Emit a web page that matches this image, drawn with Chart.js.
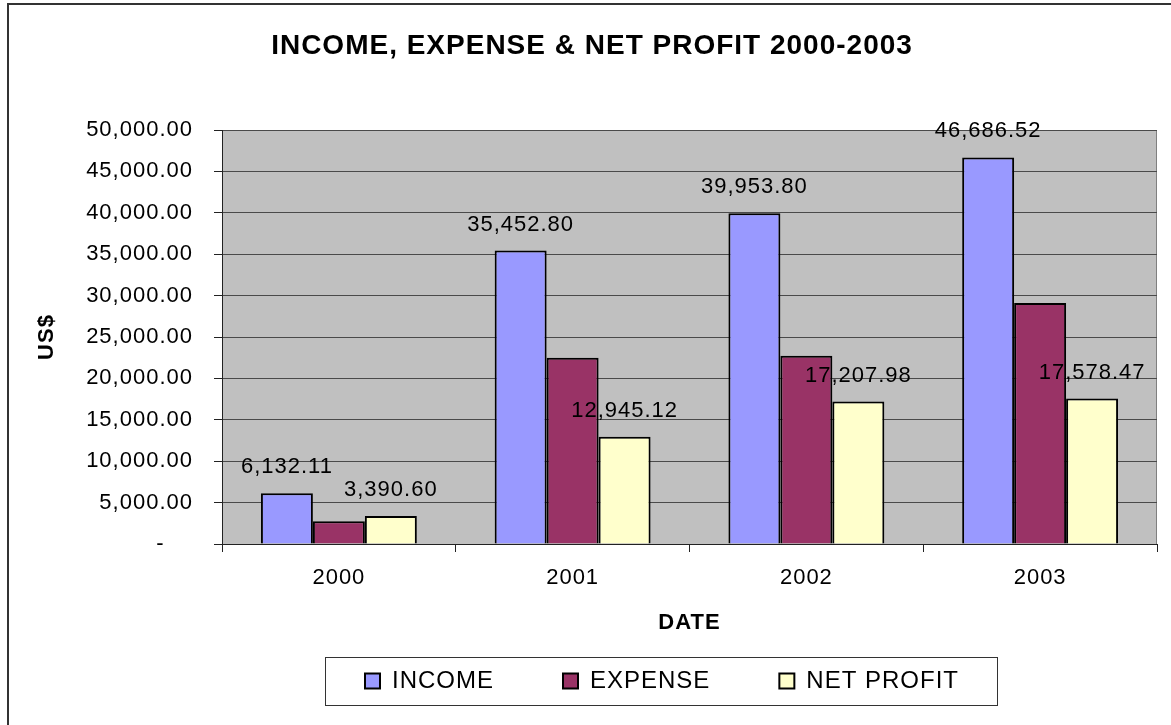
<!DOCTYPE html>
<html>
<head>
<meta charset="utf-8">
<title>Income, Expense & Net Profit</title>
<script src="https://cdn.jsdelivr.net/npm/chart.js@4.4.1/dist/chart.umd.min.js"></script>
<style>
  html, body { margin: 0; padding: 0; background: #fff; overflow: hidden; }
  #wrap { position: relative; width: 1171px; height: 725px; }
  #frame {
    position: absolute; left: 7px; top: 3px; width: 1300px; height: 900px;
    border-left: 2px solid #333; border-top: 2px solid #333; pointer-events: none;
  }
</style>
</head>
<body>
<div id="wrap">
  <canvas id="profitChart" width="1171" height="725"></canvas>
  <div id="frame"></div>
</div>
<script>
document.addEventListener("DOMContentLoaded", () => {
  // yearly figures (US$)
  const years = ["2000", "2001", "2002", "2003"];
  const income = [6132.11, 35452.80, 39953.80, 46686.52];
  const expense = [2741.51, 22507.68, 22745.82, 29108.05];
  const netProfit = [3390.60, 12945.12, 17207.98, 17578.47];
  const yTicks = [0, 5000, 10000, 15000, 20000, 25000, 30000, 35000, 40000, 45000, 50000];

  const FONT = "'Liberation Sans', Arial, sans-serif";
  Chart.defaults.font.family = FONT;
  Chart.defaults.color = "#000";

  const money = v => v.toLocaleString("en-US", { minimumFractionDigits: 2, maximumFractionDigits: 2 });

  // Excel draws text a little wider than the canvas does
  const spacing = {
    id: "spacing",
    beforeUpdate(chart) { chart.ctx.letterSpacing = "1px"; },
    beforeDraw(chart) { chart.ctx.letterSpacing = "1px"; }
  };

  // grey plot area with a thin border
  const plotArea = {
    id: "plotArea",
    beforeDraw(chart) {
      const { ctx, chartArea: a } = chart;
      ctx.save();
      ctx.fillStyle = "#c0c0c0";
      ctx.fillRect(a.left, a.top, a.right - a.left, a.bottom - a.top);
      ctx.strokeStyle = "#808080";
      ctx.lineWidth = 1;
      ctx.strokeRect(a.left + 0.5, a.top + 0.5, a.right - a.left - 1, a.bottom - a.top);
      ctx.restore();
    }
  };

  // move title and legend, then box the legend
  const placeBlocks = {
    id: "placeBlocks",
    afterLayout(chart) {
      const t = chart.titleBlock;
      t.left += 13.5;
      t.right += 13.5;
      const l = chart.legend;
      const dx = 662 - (l.left + l.right) / 2;
      l.left += dx;
      l.right += dx;
      l.top = 600;
      l.bottom = 703;
    },
    afterDraw(chart) {
      const l = chart.legend;
      const pad = l.options.labels.padding;
      const span = l.lineWidths[0] - pad;
      const c = (l.left + l.right) / 2;
      const x0 = Math.round(c - span / 2 - 40) + 0.5;
      const x1 = Math.round(c + span / 2 + 38) + 0.5;
      const ctx = chart.ctx;
      ctx.save();
      ctx.strokeStyle = "#333";
      ctx.lineWidth = 1;
      ctx.strokeRect(x0, 657.5, x1 - x0, 48);
      ctx.restore();
    }
  };

  // value labels above income and net profit bars
  const barLabels = {
    id: "barLabels",
    afterDraw(chart) {
      const ctx = chart.ctx;
      ctx.save();
      ctx.font = "22px " + FONT;
      ctx.fillStyle = "#000";
      ctx.textAlign = "center";
      ctx.textBaseline = "middle";
      [0, 2].forEach(di => {
        const meta = chart.getDatasetMeta(di);
        meta.data.forEach((bar, i) => {
          ctx.fillText(money(chart.data.datasets[di].data[i]), bar.x, bar.y - 26);
        });
      });
      ctx.restore();
    }
  };

  new Chart(document.getElementById("profitChart"), {
    type: "bar",
    data: {
      labels: years,
      datasets: [
        { label: "INCOME", data: income, backgroundColor: "#9999ff" },
        { label: "EXPENSE", data: expense, backgroundColor: "#993366" },
        { label: "NET PROFIT", data: netProfit, backgroundColor: "#ffffcc" }
      ]
    },
    options: {
      responsive: false,
      animation: false,
      devicePixelRatio: 1,
      layout: { padding: { left: 0, right: 14, top: 0, bottom: -14 } },
      datasets: {
        bar: {
          categoryPercentage: 0.667,
          barPercentage: 1,
          borderColor: "#000",
          borderWidth: 2
        }
      },
      plugins: {
        title: {
          display: true,
          text: "INCOME, EXPENSE & NET PROFIT 2000-2003",
          font: { size: 28, weight: "bold" },
          color: "#000",
          padding: { top: 29, bottom: 67.4 }
        },
        legend: {
          position: "bottom",
          labels: {
            font: { size: 24 },
            color: "#000",
            boxWidth: 15,
            boxHeight: 15,
            padding: 69
          }
        },
        tooltip: { enabled: false }
      },
      scales: {
        x: {
          afterFit(scale) { scale.height = 92; },
          grid: { drawOnChartArea: false, drawTicks: true, tickLength: 8, color: "#222", offset: true },
          border: { display: true, color: "#222", width: 1 },
          ticks: { font: { size: 22 }, color: "#000", padding: 13 },
          title: {
            display: true,
            text: "DATE",
            font: { size: 22, weight: "bold" },
            color: "#000",
            padding: { top: 0, bottom: 0 }
          }
        },
        y: {
          min: 0,
          max: 50000,
          afterFit(scale) { scale.width = 222; },
          afterBuildTicks(scale) { scale.ticks = yTicks.map(v => ({ value: v })); },
          grid: { color: "#4a4a4a", lineWidth: 1, tickLength: 8, tickColor: "#222" },
          border: { display: true, color: "#222", width: 1 },
          ticks: {
            font: { size: 22 },
            color: "#000",
            padding: 21,
            callback: v => (v === 0 ? "-    " : money(v))
          },
          title: {
            display: true,
            text: "US$",
            font: { size: 22, weight: "bold" },
            color: "#000",
            padding: { top: 34, bottom: 0 }
          }
        }
      }
    },
    plugins: [spacing, plotArea, placeBlocks, barLabels]
  });
});
</script>
</body>
</html>
